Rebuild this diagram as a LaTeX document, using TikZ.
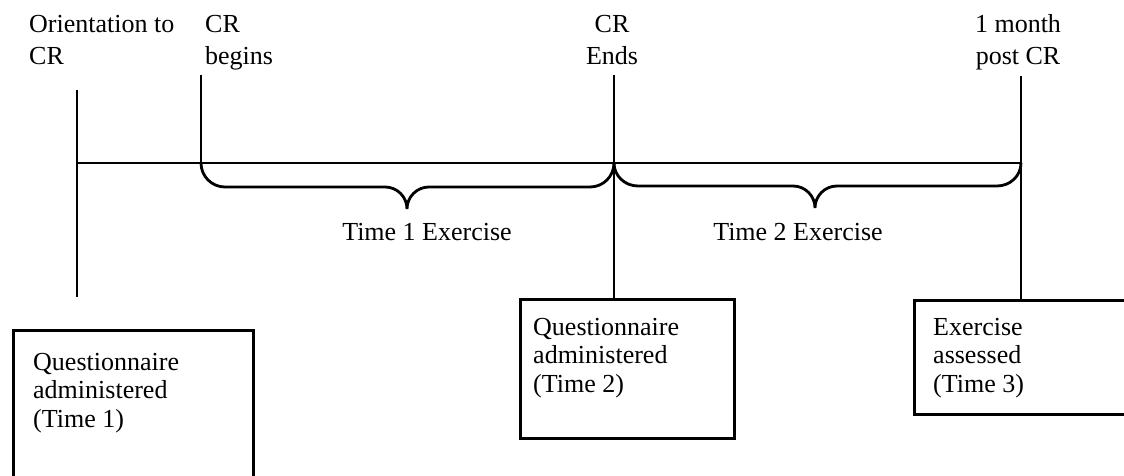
\documentclass[tikz,border=0pt]{standalone}
\usepackage{fontspec}
\setmainfont{Liberation Serif}
\begin{document}
\begin{tikzpicture}[x=1pt,y=-1pt,
  rule/.style={line width=2.8pt},
  toplabel/.style={font=\fontsize{26}{32}\selectfont, inner sep=0pt},
  boxtext/.style={font=\fontsize{26}{28.5}\selectfont, inner sep=0pt, align=left, anchor=base west},
  stepbox/.style={draw, line width=2.6pt, inner sep=0pt, anchor=north west},
  spanlabel/.style={font=\fontsize{26}{32}\selectfont, inner sep=0pt, anchor=base}
]
\useasboundingbox (0,0) rectangle (1124,476);
\clip (0,0) rectangle (1124,476);

% milestone labels above the timeline (anchored at the last line's baseline)
\node[toplabel, align=left, anchor=base west] (orient) at (29,65) {Orientation to\\CR};
\node[toplabel, align=left, anchor=base west] (begins) at (205,65) {CR\\begins};
\node[toplabel, align=center, anchor=base] (ends) at (612,65) {CR\\Ends};
\node[toplabel, align=center, anchor=base] (month) at (1018,65) {1 month\\post CR};

% timeline points
\coordinate (t0) at (77,163);
\coordinate (t1) at (201,163);
\coordinate (t2) at (614,163);
\coordinate (t3) at (1021,163);
\coordinate (t0top) at (77,90);
\coordinate (t0bot) at (77,297);
\coordinate (t1top) at (201,75);
\coordinate (t2top) at (614,75);
\coordinate (t3top) at (1021,76);

% assessment boxes
\node[stepbox, minimum width=240pt, minimum height=200pt] (q1) at (12,329) {};
\node[stepbox, minimum width=214pt, minimum height=139pt] (q2) at (519,298) {};
\node[stepbox, minimum width=250pt, minimum height=114pt] (ex) at (913,299) {};
\node[boxtext] (q1text) at (33,427) {Questionnaire\\administered\\(Time 1)};
\node[boxtext] (q2text) at (533,392) {Questionnaire\\administered\\(Time 2)};
\node[boxtext] (extext) at (933,392) {Exercise\\assessed\\(Time 3)};

% timeline and ticks
\draw[rule] (t0) -- (t3);
\draw[rule] (t0top) -- (t0bot);
\draw[rule] (t1top) -- (t1);
\draw[rule] (t2top) -- (t2top |- q2.north);
\draw[rule] (t3top) -- (t3top |- ex.north);

% braces under the two exercise periods
\draw[rule] (t1) to[out=-90,in=180] (225,187) -- (385,187)
  to[out=0,in=90] (407,209) to[out=90,in=180] (429,187) -- (590,187)
  to[out=0,in=-90] (t2);
\draw[rule] (t2) to[out=-90,in=180] (638,186) -- (793,186)
  to[out=0,in=90] (815,208) to[out=90,in=180] (837,186) -- (997,186)
  to[out=0,in=-90] (t3);

\node[spanlabel] (span1) at (427,240) {Time 1 Exercise};
\node[spanlabel] (span2) at (798,240) {Time 2 Exercise};
\end{tikzpicture}
\end{document}
